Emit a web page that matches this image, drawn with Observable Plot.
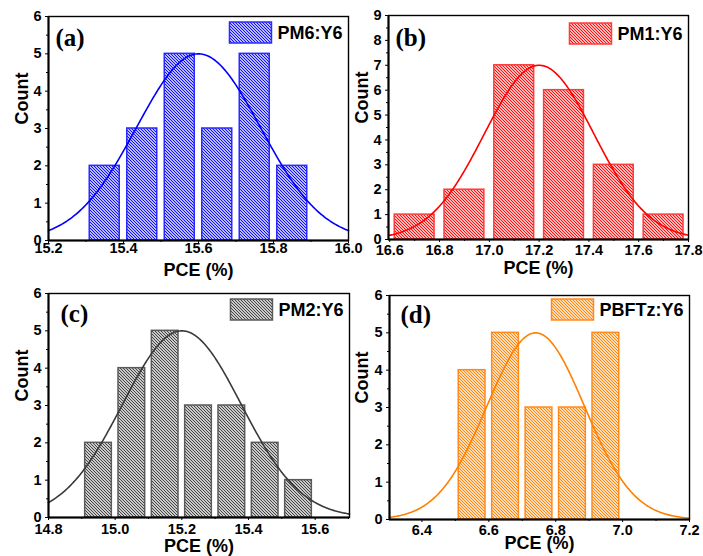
<!DOCTYPE html>
<html>
<head>
<meta charset="utf-8">
<script src="https://cdn.jsdelivr.net/npm/d3@7"></script>
<script src="https://cdn.jsdelivr.net/npm/@observablehq/plot@0.6"></script>
<style>
  body { margin: 0; background: #fff; }
  #wrap { position: relative; width: 703px; height: 556px; overflow: hidden; background: #fff; }
  .panel { position: absolute; }
  .panel svg { overflow: visible; }
</style>
</head>
<body>
<div id="wrap"></div>
<script>
// ---- Data ----
// (a) PM6:Y6
const pceA = [15.35, 15.45, 15.55, 15.65, 15.75, 15.85];
const countA = [2, 3, 5, 3, 5, 2];
const fitA = [15.6, 5, 0.165];          // center, amplitude, sigma
const xTicksA = [15.2, 15.4, 15.6, 15.8, 16.0];
const xMinorA = [15.3, 15.5, 15.7, 15.9];
const yTicksA = [0, 1, 2, 3, 4, 5, 6];

// (b) PM1:Y6
const pceB = [16.7, 16.9, 17.1, 17.3, 17.5, 17.7];
const countB = [1, 2, 7, 6, 3, 1];
const fitB = [17.2, 7, 0.22];
const xTicksB = [16.6, 16.8, 17.0, 17.2, 17.4, 17.6, 17.8];
const xMinorB = [16.7, 16.9, 17.1, 17.3, 17.5, 17.7];
const yTicksB = [0, 1, 2, 3, 4, 5, 6, 7, 8, 9];

// (c) PM2:Y6
const pceC = [14.95, 15.05, 15.15, 15.25, 15.35, 15.45, 15.55];
const countC = [2, 4, 5, 3, 3, 2, 1];
const fitC = [15.2, 5, 0.178];
const xTicksC = [14.8, 15.0, 15.2, 15.4, 15.6];
const xMinorC = [14.9, 15.1, 15.3, 15.5, 15.7];
const yTicksC = [0, 1, 2, 3, 4, 5, 6];

// (d) PBFTz:Y6
const pceD = [6.55, 6.65, 6.75, 6.85, 6.95];
const countD = [4, 5, 3, 3, 5];
const fitD = [6.74, 5, 0.146];
const xTicksD = [6.4, 6.6, 6.8, 7.0, 7.2];
const xMinorD = [6.5, 6.7, 6.9, 7.1];
const yTicksD = [0, 1, 2, 3, 4, 5, 6];

const tags = ["(a)", "(b)", "(c)", "(d)"];
const legendNames = ["PM6:Y6", "PM1:Y6", "PM2:Y6", "PBFTz:Y6"];

// ---- Panel configuration (layout & style) ----
const panels = [
  {id: "a", left: 0, top: 0, w: 352, mL: 48, mR: 4, mT: 16, mB: 38,
   xDomain: [15.2, 16.0], yMax: 6, binW: 0.1, x: pceA, n: countA, fit: fitA,
   xTicks: xTicksA, xMinor: xMinorA, yTicks: yTicksA,
   hatch: "#0000ff", barStroke: "#2a2aff", curve: "#0000ff",
   xTickDy: 8, xlabDy: 30, ylabDx: -26, tagDx: 7, tagDy: 21, legTop: 6},
  {id: "b", left: 350, top: 0, w: 353, mL: 38, mR: 15, mT: 15, mB: 39,
   xDomain: [16.595, 17.8], yMax: 9, binW: 0.2, x: pceB, n: countB, fit: fitB,
   xTicks: xTicksB, xMinor: xMinorB, yTicks: yTicksB,
   hatch: "#ff0000", barStroke: "#ff3a3a", curve: "#ff0000",
   xTickDy: 11, xlabDy: 29, ylabDx: -26, tagDx: 7, tagDy: 22, legTop: 8},
  {id: "c", left: 0, top: 278, w: 352, mL: 48, mR: 3, mT: 15, mB: 39,
   xDomain: [14.8, 15.703], yMax: 6, binW: 0.1, x: pceC, n: countC, fit: fitC,
   xTicks: xTicksC, xMinor: xMinorC, yTicks: yTicksC,
   hatch: "#3a3a3a", barStroke: "#5a5a5a", curve: "#3a3a3a",
   xTickDy: 11.5, xlabDy: 28.5, ylabDx: -26, tagDx: 12, tagDy: 20, legTop: 6},
  {id: "d", left: 350, top: 278, w: 353, mL: 39, mR: 14, mT: 17, mB: 37,
   xDomain: [6.303, 7.2], yMax: 6, binW: 0.1, x: pceD, n: countD, fit: fitD,
   xTicks: xTicksD, xMinor: xMinorD, yTicks: yTicksD,
   hatch: "#ff8000", barStroke: "#ff8a1c", curve: "#ff8000",
   xTickDy: 11, xlabDy: 24, ylabDx: -27, tagDx: 11, tagDy: 19, legTop: 4}
];

const wrap = document.getElementById("wrap");
const H = 278;
const SANS = "Liberation Sans, Arial, sans-serif";
const fmtX = d3.format(".1f");
const fmtY = d3.format("d");

panels.forEach((p, k) => {
  const bars = p.x.map((x, i) => ({x, n: p.n[i]}));
  const [xc, A, s] = p.fit;
  const steps = 300;
  const curve = d3.range(steps + 1).map(i => {
    const x = p.xDomain[0] + (p.xDomain[1] - p.xDomain[0]) * i / steps;
    return {x, y: A * Math.exp(-((x - xc) ** 2) / (2 * s * s))};
  });
  const yMinor = d3.range(0.5, p.yMax, 1);

  const chart = Plot.plot({
    width: p.w, height: H,
    marginLeft: p.mL, marginRight: p.mR, marginTop: p.mT, marginBottom: p.mB,
    style: {background: "transparent", overflow: "visible", color: "#000"},
    x: {domain: p.xDomain, label: null},
    y: {domain: [0, p.yMax], label: null},
    marks: [
      Plot.rectY(bars, {
        x1: d => d.x - p.binW * 0.4, x2: d => d.x + p.binW * 0.4,
        y1: 0, y2: "n",
        fill: `url(#hatch-${p.id})`, stroke: p.barStroke, strokeWidth: 1.5
      }),
      Plot.line(curve, {x: "x", y: "y", stroke: p.curve, strokeWidth: 1.6}),
      Plot.frame({stroke: "#000", strokeWidth: 1.4}),
      Plot.ruleX([p.xDomain[0]], {stroke: "#000", strokeWidth: 2}),
      Plot.ruleY([0], {stroke: "#000", strokeWidth: 2}),
      // tick marks only (labels drawn by text marks below)
      Plot.axisX({ticks: p.xTicks, tickSize: 3, tickFormat: () => ""}),
      Plot.axisX({ticks: p.xMinor, tickSize: 2, tickFormat: () => ""}),
      Plot.axisY({ticks: p.yTicks, tickSize: 3, tickFormat: () => ""}),
      Plot.axisY({ticks: yMinor, tickSize: 2, tickFormat: () => ""}),
      // tick labels
      Plot.text(p.xTicks, {x: d => d, text: d => fmtX(d), frameAnchor: "bottom", lineAnchor: "middle", dy: p.xTickDy, fontSize: 14.5, fontWeight: "bold", fontFamily: SANS, fill: "#000"}),
      Plot.text(p.yTicks, {y: d => d, text: d => fmtY(d), frameAnchor: "left", textAnchor: "end", lineAnchor: "middle", dx: -7, fontSize: 14.5, fontWeight: "bold", fontFamily: SANS, fill: "#000"}),
      // axis titles
      Plot.text(["PCE (%)"], {text: d => d, frameAnchor: "bottom", lineAnchor: "middle", dy: p.xlabDy, fontSize: 18, fontWeight: "bold", fontFamily: SANS, fill: "#000"}),
      Plot.text(["Count"], {text: d => d, frameAnchor: "left", lineAnchor: "middle", rotate: -90, dx: p.ylabDx, dy: -4, fontSize: 18, fontWeight: "bold", fontFamily: SANS, fill: "#000"}),
      // panel tag
      Plot.text([tags[k]], {text: d => d, frameAnchor: "top-left", textAnchor: "start", lineAnchor: "middle", dx: p.tagDx, dy: p.tagDy, fontSize: 25, fontWeight: "bold", fontFamily: "Liberation Serif, Times New Roman, serif", fill: "#000"}),
      // legend label
      Plot.text([legendNames[k]], {text: d => d, frameAnchor: "top-right", textAnchor: "end", lineAnchor: "middle", dx: -6, dy: p.legTop + 10.5, fontSize: 18, fontWeight: "bold", fontFamily: SANS, fill: "#000"})
    ]
  });

  const div = document.createElement("div");
  div.className = "panel";
  div.style.left = p.left + "px";
  div.style.top = p.top + "px";
  div.appendChild(chart);
  wrap.appendChild(div);

  const svgNode = chart.tagName.toLowerCase() === "svg" ? chart : chart.querySelector("svg");
  const svg = d3.select(svgNode);

  // hatch pattern (diagonal "\" lines)
  const defs = svg.insert("defs", ":first-child");
  const pat = defs.append("pattern")
    .attr("id", `hatch-${p.id}`)
    .attr("patternUnits", "userSpaceOnUse")
    .attr("width", 3).attr("height", 3);
  pat.append("rect").attr("width", 3).attr("height", 3).attr("fill", "#fff");
  pat.append("path")
    .attr("d", "M-1,-1L4,4M-1,2L1,4M2,-1L4,1")
    .attr("stroke", p.hatch).attr("stroke-width", 1.05).attr("fill", "none");

  // legend swatch placed left of the legend text
  const node = svg.selectAll("text").filter(function() { return this.textContent === legendNames[k]; }).node();
  const bb = node.getBBox();
  const m = node.getCTM();
  const svgM = svgNode.getCTM();
  const ptX = m.a * bb.x + m.c * bb.y + m.e - (svgM ? svgM.e : 0);
  const rectW = 42, rectH = 21;
  svg.append("rect")
    .attr("x", ptX - 6 - rectW)
    .attr("y", p.mT + p.legTop)
    .attr("width", rectW).attr("height", rectH)
    .attr("fill", `url(#hatch-${p.id})`)
    .attr("stroke", p.barStroke).attr("stroke-width", 1.5);
});
</script>
</body>
</html>
